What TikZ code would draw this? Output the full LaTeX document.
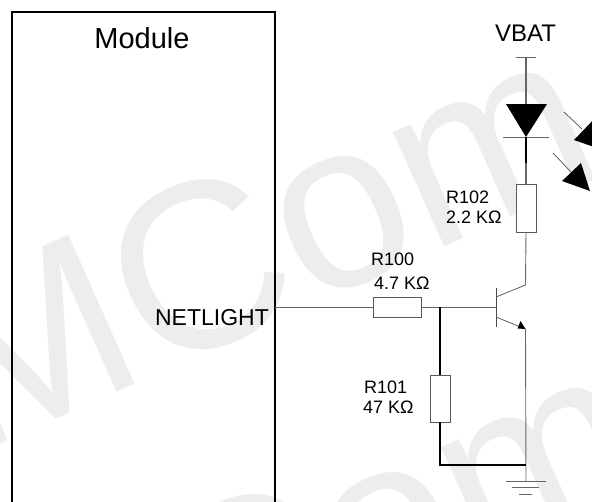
\documentclass[tikz,border=0pt]{standalone}
\usepackage{fontspec}
\setmainfont{Liberation Sans}
\tikzstyle{res}=[shape=rectangle,
                draw=black!65,
                fill=white,
                inner sep=0pt,
                outer sep=0pt,
                line width=0.9pt]
\tikzstyle{lbl}=[anchor=base west,
                inner sep=0pt,
                font=\fontsize{18}{18}\selectfont]
\tikzstyle{wire}=[draw=black!60,line width=0.9pt]
\tikzstyle{heavy}=[draw=black,line width=1.8pt]
\tikzstyle{fine}=[draw=black!70,line width=0.7pt]
\tikzstyle{wmark}=[text=black!7,inner sep=0pt,rotate=24,
                font=\fontsize{237}{237}\selectfont]

\begin{document}
\begin{tikzpicture}[x=1pt,y=-1pt,>=stealth]
\useasboundingbox (0,0) rectangle (592,501);
\clip (0,0) rectangle (592,501);

% watermark
\node[wmark] (wm1) at (156,286) {SIMCom};
\node[wmark] (wm2) at (204,601) {SIMCom};

% module block
\node[draw=black,line width=1.3pt,inner sep=0pt,outer sep=0pt,
      minimum width=263pt,minimum height=600pt] (module) at (143.5,312) {};
\node[anchor=base,inner sep=0pt,font=\fontsize{29}{29}\selectfont] (title) at (142,48) {Module};
\node[anchor=base east,inner sep=0pt,font=\fontsize{23}{23}\selectfont] (netlight) at (269,325) {NETLIGHT};
\node[anchor=base,inner sep=0pt,font=\fontsize{24}{24}\selectfont] (vbat) at (525.5,41) {VBAT};

% resistors
\node[res,minimum width=48pt,minimum height=20pt] (r100) at (397,307) {};
\node[res,minimum width=20pt,minimum height=47pt] (r101) at (440,398.5) {};
\node[res,minimum width=20pt,minimum height=48pt] (r102) at (526,208) {};

% resistor labels
\node[lbl] (r100a) at (371,265) {R100};
\node[lbl] (r100b) at (374,289) {4.7 KΩ};
\node[lbl] (r101a) at (364,393) {R101};
\node[lbl] (r101b) at (363,413) {47 KΩ};
\node[lbl] (r102a) at (446,203) {R102};
\node[lbl] (r102b) at (446,223) {2.2 KΩ};

% supply and diode
\coordinate (top) at (526,57);
\coordinate (anode) at (526,104);
\coordinate (cathode) at (526,137);
\coordinate (dark) at (526,163);
\draw[wire] (516,57) -- (536,57);
\draw[wire,line width=1.2pt] (top) -- (anode);
\fill[black] (506,104) -- (547,104) -- (cathode) -- cycle;
\draw[wire] (503,137) -- (549,137);
\draw[draw=black,line width=1.2pt] (cathode) -- (dark);
\draw[wire,line width=1.2pt] (dark) -- (r102.north);

% light arrows
\draw[fine] (564,112) -- (582,129);
\fill[black] (574,140) -- (597,116) -- (597,148) -- cycle;
\draw[fine] (553,153) -- (571,172);
\fill[black] (562,181) -- (581,163) -- (590,191) -- cycle;

% transistor
\coordinate (base) at (496,307);
\coordinate (coll) at (525.5,285);
\coordinate (emit) at (525.5,329);
\coordinate (gnd) at (526,481);
\coordinate (join) at (440,307);
\coordinate (low) at (440,465);
\coordinate (lowr) at (526,465);
\draw[fine] (496,288) -- (496,327);
\draw[fine] (496,297) -- (coll);
\draw[fine] (496,317) -- (emit);
\fill[black] (emit) -- (517.5,328.5) -- (520.5,321) -- cycle;

% wires
\draw[wire] (module.east |- base) -- (r100.west);
\draw[wire] (r100.east) -- (base);
\draw[wire] (r102.south) -- (coll);
\draw[wire] (emit) -- (gnd);
\draw[heavy] (join) -- (r101.north);
\draw[heavy] (r101.south) -- (low) -- (lowr);

% ground
\draw[wire] (506,481) -- (546,481);
\draw[wire] (512,487) -- (539,487);
\draw[wire] (519,494) -- (532,494);
\end{tikzpicture}
\end{document}
